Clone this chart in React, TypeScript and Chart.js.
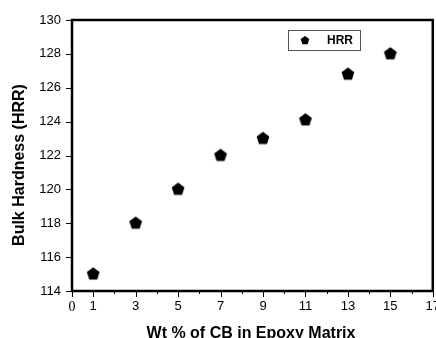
import React, { useEffect, useRef } from 'react';
import { Chart, registerables } from 'chart.js';
Chart.register(...registerables);

const xValues = [1, 3, 5, 7, 9, 11, 13, 15];
const hardness = [115, 118, 120, 122, 123, 124.1, 126.8, 128];
const seriesLabel = 'HRR';
const xTickValues = [0, 1, 3, 5, 7, 9, 11, 13, 15, 17];
const xMinorTicks = [2, 4, 6, 8, 10, 12, 14, 16];
const xTitle = 'Wt % of CB in Epoxy Matrix';
const yTitle = 'Bulk Hardness (HRR)';

const SANS = '"Liberation Sans", Arial, Helvetica, sans-serif';
const SERIF = '"Liberation Serif", "Times New Roman", serif';

function makePentagon(r: number, size: number) {
  const c = document.createElement('canvas');
  c.width = size;
  c.height = size;
  const ctx = c.getContext('2d')!;
  ctx.fillStyle = '#000';
  ctx.beginPath();
  for (let i = 0; i < 5; i++) {
    const a = -Math.PI / 2 + (i * 2 * Math.PI) / 5;
    const px = size / 2 + r * Math.cos(a);
    const py = size / 2 + r * Math.sin(a);
    if (i) ctx.lineTo(px, py);
    else ctx.moveTo(px, py);
  }
  ctx.closePath();
  ctx.fill();
  return c;
}

function drawPentagon(ctx: CanvasRenderingContext2D, cx: number, cy: number, r: number) {
  ctx.beginPath();
  for (let i = 0; i < 5; i++) {
    const a = -Math.PI / 2 + (i * 2 * Math.PI) / 5;
    const px = cx + r * Math.cos(a);
    const py = cy + r * Math.sin(a);
    if (i) ctx.lineTo(px, py);
    else ctx.moveTo(px, py);
  }
  ctx.closePath();
  ctx.fill();
}

const decorPlugin = {
  id: 'decor',
  afterDraw(chart: any) {
    const ctx: CanvasRenderingContext2D = chart.ctx;
    const { left, right, top, bottom } = chart.chartArea;
    const xs = chart.scales.x;
    const ys = chart.scales.y;
    ctx.save();
    ctx.strokeStyle = '#000';
    // tick marks
    ctx.lineWidth = 1;
    ctx.beginPath();
    ys.ticks.forEach((t: any) => {
      const y = Math.round(ys.getPixelForValue(t.value)) + 0.5;
      ctx.moveTo(left - 6, y);
      ctx.lineTo(left, y);
    });
    xTickValues.forEach((v) => {
      const x = Math.round(xs.getPixelForValue(v)) + 0.5;
      ctx.moveTo(x, bottom);
      ctx.lineTo(x, bottom + 6);
    });
    xMinorTicks.forEach((v) => {
      const x = Math.round(xs.getPixelForValue(v)) + 0.5;
      ctx.moveTo(x, bottom);
      ctx.lineTo(x, bottom + 3);
    });
    ctx.stroke();
    // frame
    ctx.lineWidth = 2.5;
    ctx.strokeRect(left, top, right - left, bottom - top);

    // axis titles
    ctx.fillStyle = '#000';
    ctx.font = 'bold 16px ' + SANS;
    ctx.textAlign = 'center';
    ctx.textBaseline = 'alphabetic';
    ctx.fillText(xTitle, 251, 338);
    ctx.save();
    ctx.translate(24, 165);
    ctx.rotate(-Math.PI / 2);
    ctx.fillText(yTitle, 0, 0);
    ctx.restore();

    // legend
    ctx.lineWidth = 1;
    ctx.strokeStyle = '#555';
    ctx.strokeRect(288.5, 30.5, 72, 20);
    ctx.fillStyle = '#000';
    drawPentagon(ctx, 305, 40.5, 4.5);
    ctx.font = 'bold 12px ' + SANS;
    ctx.textAlign = 'left';
    ctx.textBaseline = 'middle';
    ctx.fillText(chart.data.datasets[0].label, 327, 41);
    ctx.restore();
  },
};

export default function App() {
  const ref = useRef<HTMLCanvasElement>(null);
  useEffect(() => {
    document.body.style.margin = '0';
    const pent = makePentagon(6.7, 16);
    const chart = new Chart(ref.current!, {
      type: 'scatter',
      data: {
        datasets: [
          {
            label: seriesLabel,
            data: xValues.map((x, i) => ({ x, y: hardness[i] })),
            pointStyle: pent as any,
            pointRadius: 7,
            backgroundColor: '#000',
            borderColor: '#000',
          },
        ],
      },
      options: {
        responsive: false,
        animation: false,
        layout: { padding: { left: 0, top: 20, right: 0, bottom: 0 } },
        plugins: { legend: { display: false }, tooltip: { enabled: false } },
        scales: {
          x: {
            type: 'linear',
            min: 0,
            max: 17,
            afterBuildTicks: (s: any) => {
              s.ticks = xTickValues.map((v) => ({ value: v }));
            },
            afterFit: (s: any) => {
              s.height = 47;
            },
            grid: { display: false, drawTicks: false },
            border: { display: false },
            ticks: {
              autoSkip: false,
              maxRotation: 0,
              padding: 8,
              color: '#000',
              font: (c: any) =>
                c.tick && c.tick.value === 0
                  ? { family: SERIF, size: 14 }
                  : { family: SANS, size: 13 },
              callback: (v: any) => String(v),
            },
          },
          y: {
            min: 114,
            max: 130,
            afterFit: (s: any) => {
              s.width = 72;
            },
            grid: { display: false, drawTicks: false },
            border: { display: false },
            ticks: {
              stepSize: 2,
              padding: 11,
              color: '#000',
              font: { family: SANS, size: 13 },
            },
          },
        },
      },
      plugins: [decorPlugin],
    });
    return () => chart.destroy();
  }, []);
  return (
    <div style={{ position: 'absolute', left: 0, top: 0, width: 436, height: 338, overflow: 'hidden' }}>
      <canvas ref={ref} width={448} height={338} />
    </div>
  );
}
